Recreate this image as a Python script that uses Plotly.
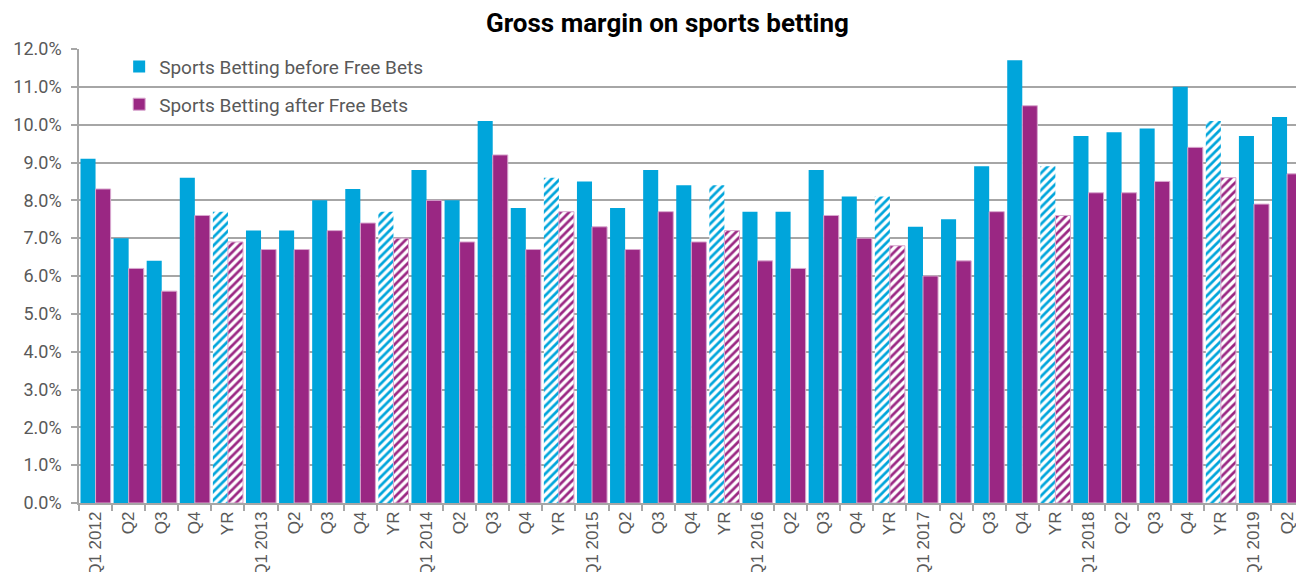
import plotly.graph_objects as go

categories = ["Q1 2012", "Q2", "Q3", "Q4", "YR",
              "Q1 2013", "Q2", "Q3", "Q4", "YR",
              "Q1 2014", "Q2", "Q3", "Q4", "YR",
              "Q1 2015", "Q2", "Q3", "Q4", "YR",
              "Q1 2016", "Q2", "Q3", "Q4", "YR",
              "Q1 2017", "Q2", "Q3", "Q4", "YR",
              "Q1 2018", "Q2", "Q3", "Q4", "YR",
              "Q1 2019", "Q2"]

before_free_bets = [9.1, 7.0, 6.4, 8.6, 7.7,
                    7.2, 7.2, 8.0, 8.3, 7.7,
                    8.8, 8.0, 10.1, 7.8, 8.6,
                    8.5, 7.8, 8.8, 8.4, 8.4,
                    7.7, 7.7, 8.8, 8.1, 8.1,
                    7.3, 7.5, 8.9, 11.7, 8.9,
                    9.7, 9.8, 9.9, 11.0, 10.1,
                    9.7, 10.2]

after_free_bets = [8.3, 6.2, 5.6, 7.6, 6.9,
                   6.7, 6.7, 7.2, 7.4, 7.0,
                   8.0, 6.9, 9.2, 6.7, 7.7,
                   7.3, 6.7, 7.7, 6.9, 7.2,
                   6.4, 6.2, 7.6, 7.0, 6.8,
                   6.0, 6.4, 7.7, 10.5, 7.6,
                   8.2, 8.2, 8.5, 9.4, 8.6,
                   7.9, 8.7]

BLUE = "#00A5DB"
PURPLE = "#9A2783"

x = list(range(len(categories)))
shapes = ["/" if c == "YR" else "" for c in categories]

fig = go.Figure()
fig.add_trace(go.Bar(
    x=x, y=[v / 100 for v in before_free_bets],
    name="Sports Betting before Free Bets", legendgroup="a",
    marker=dict(color=BLUE, line=dict(width=0),
                pattern=dict(shape=shapes, fgcolor=BLUE, bgcolor="white",
                             size=6, solidity=0.45, fillmode="replace")),
))
fig.add_trace(go.Bar(
    x=x, y=[v / 100 for v in after_free_bets],
    name="Sports Betting after Free Bets", legendgroup="b",
    marker=dict(color=PURPLE, line=dict(width=1, color="#D9A8CF"),
                pattern=dict(shape=shapes, fgcolor=PURPLE, bgcolor="white",
                             size=6, solidity=0.45, fillmode="replace")),
))

fig.update_layout(
    width=1296, height=572,
    margin=dict(l=79, r=0, t=49, b=69, autoexpand=False),
    paper_bgcolor="white", plot_bgcolor="white",
    barmode="group", bargap=0.09, bargroupgap=0,
    title=dict(text="<b>Gross margin on sports betting</b>",
               x=0.515, xanchor="center", y=0.96, yanchor="middle",
               font=dict(family="Roboto", size=26, color="black")),
    legend=dict(x=0.033, y=1.003, xanchor="left", yanchor="top",
                bgcolor="rgba(0,0,0,0)", tracegroupgap=10,
                font=dict(family="Roboto", size=19, color="#595959"),
                itemwidth=30),
    font=dict(family="Roboto", color="#595959"),
)

fig.update_yaxes(
    range=[0, 0.12], tickvals=[i / 100 for i in range(13)],
    tickformat=".1%", tickfont=dict(family="Roboto", size=18, color="#595959"),
    ticklabelstandoff=6,
    showgrid=True, gridcolor="#A6A6A6", gridwidth=1.5,
    showline=True, linecolor="#A6A6A6", linewidth=1.5,
    ticks="outside", ticklen=6, tickcolor="#A6A6A6", tickwidth=1.5,
    zeroline=False,
)
fig.update_xaxes(
    range=[-0.5, 36.27],
    tickmode="array", tickvals=x, ticktext=categories, tickangle=-90,
    tickfont=dict(family="Liberation Sans", size=17, color="#595959"),
    ticklabeloverflow="allow",
    ticks="", showgrid=False, zeroline=False,
    showline=True, linecolor="#A6A6A6", linewidth=1.5,
    minor=dict(tick0=-0.5, dtick=1, ticks="outside", ticklen=6,
               tickcolor="#A6A6A6", tickwidth=1.5, showgrid=False),
)

fig.write_html("out.html", config={"displayModeBar": False},
               post_script="document.body.style.margin='0';")
